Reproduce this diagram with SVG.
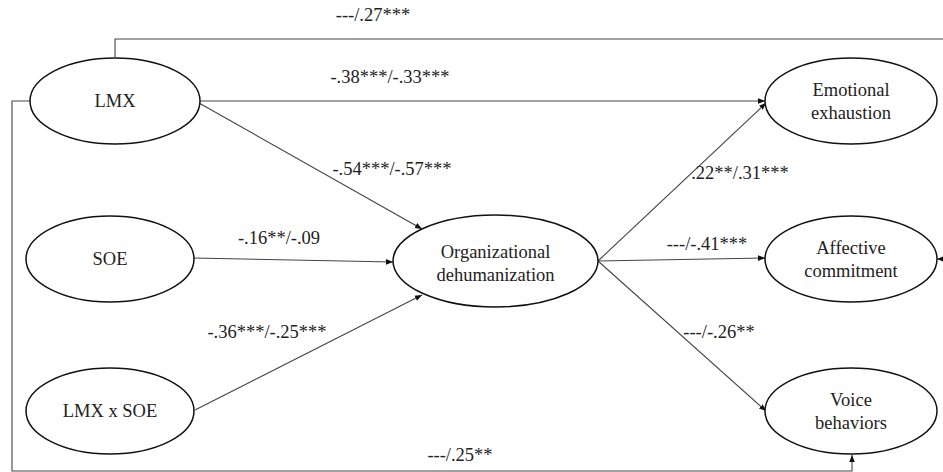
<svg xmlns="http://www.w3.org/2000/svg" width="943" height="472" viewBox="0 0 943 472">
<style>
.node ellipse{fill:#fff;stroke:#111;stroke-width:1.5}
#connectors path{fill:none;stroke:#444;stroke-width:1.1}
</style>
<defs>
<marker id="arr" viewBox="0 0 10 10" refX="10" refY="5" markerWidth="7" markerHeight="7" markerUnits="userSpaceOnUse" orient="auto">
<path d="M0,1 L10,5 L0,9 Z" fill="#111"/>
</marker>
</defs>
<rect width="943" height="472" fill="#fff"/>
<g id="connectors">
<path d="M115,57 V39 H943"/>
<path d="M199,101 H765" marker-end="url(#arr)"/>
<path d="M30,101 H12 V471 H852 V455" marker-end="url(#arr)"/>
<path d="M943,259 H937" marker-end="url(#arr)"/>
<path d="M193,258 L393,262" marker-end="url(#arr)"/>
<path d="M199,103 L422,229" marker-end="url(#arr)"/>
<path d="M195,410 L422,295" marker-end="url(#arr)"/>
<path d="M598,261 L766,103" marker-end="url(#arr)"/>
<path d="M598,261 L765,258" marker-end="url(#arr)"/>
<path d="M598,261 L766,411" marker-end="url(#arr)"/>
</g>
<g id="labels" font-family="Liberation Serif" font-size="18.5" fill="#222" text-anchor="middle">
<text x="373" y="21">---/.27***</text>
<text x="390" y="83">-.38***/-.33***</text>
<text x="392" y="175">-.54***/-.57***</text>
<text x="279" y="244">-.16**/-.09</text>
<text x="267" y="338">-.36***/-.25***</text>
<text x="740" y="179">.22**/.31***</text>
<text x="707" y="250">---/-.41***</text>
<text x="719" y="338">---/-.26**</text>
<text x="460" y="461">---/.25**</text>
</g>
<g font-family="Liberation Serif" font-size="18.5" fill="#222" text-anchor="middle">
<g id="LMX" class="node"><ellipse cx="115" cy="101" rx="85" ry="43"/><text x="115" y="107">LMX</text></g>
<g id="SOE" class="node"><ellipse cx="110" cy="259" rx="84" ry="43"/><text x="110" y="265">SOE</text></g>
<g id="LMXxSOE" class="node"><ellipse cx="110" cy="411" rx="84" ry="43"/><text x="110" y="417">LMX x SOE</text></g>
<g id="OD" class="node"><ellipse cx="495.5" cy="261" rx="102.5" ry="46"/><text x="495.5" y="258">Organizational</text><text x="495.5" y="281">dehumanization</text></g>
<g id="EE" class="node"><ellipse cx="851" cy="101" rx="86" ry="43"/><text x="851" y="96">Emotional</text><text x="851" y="119">exhaustion</text></g>
<g id="AC" class="node"><ellipse cx="851" cy="259" rx="86" ry="43"/><text x="851" y="254">Affective</text><text x="851" y="277">commitment</text></g>
<g id="VB" class="node"><ellipse cx="851" cy="411" rx="86" ry="43"/><text x="851" y="406">Voice</text><text x="851" y="429">behaviors</text></g>
</g>
</svg>
